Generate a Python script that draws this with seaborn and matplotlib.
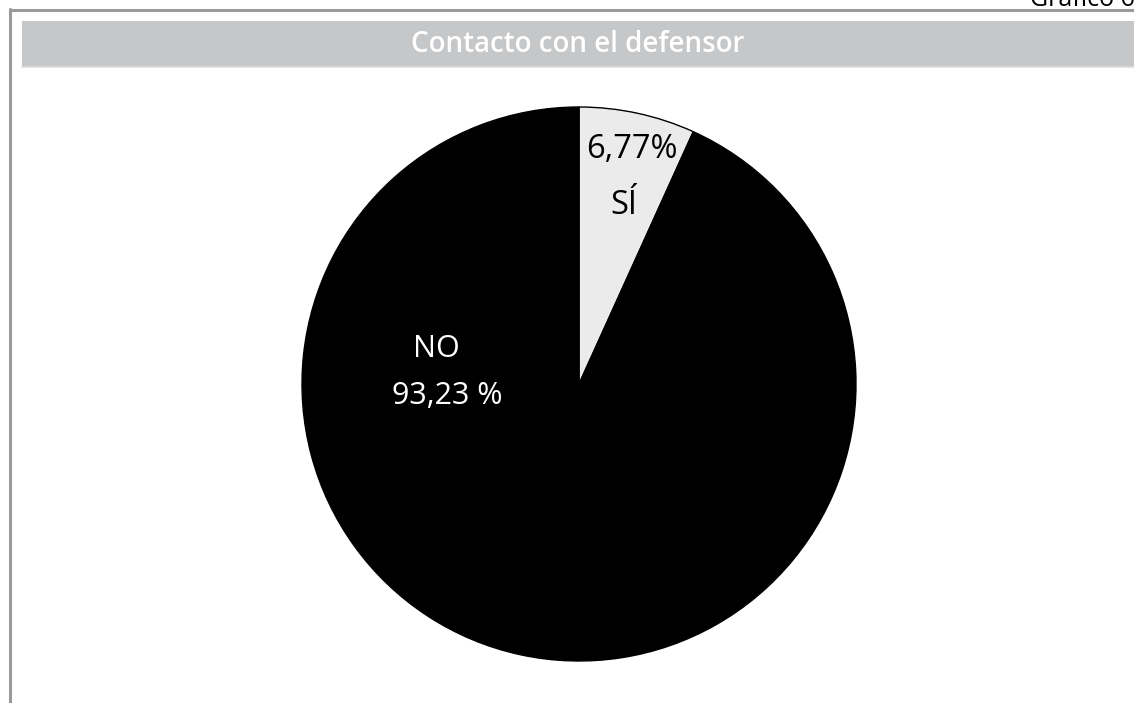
import matplotlib
matplotlib.use("Agg")
import matplotlib.pyplot as plt
import seaborn as sns

# Contact with the public defender: share of answers
categories = ["SÍ", "NO"]
shares = [6.77, 93.23]
slice_labels = ["6,77%\nSÍ", "NO\n93,23 %"]
slice_colors = ["#ebebeb", "#000000"]

sns.set_theme(style="white")
plt.rcParams["font.family"] = ["Open Sans", "DejaVu Sans"]

W, H = 1134, 703
fig = plt.figure(figsize=(W / 100, H / 100), dpi=100)
fig.patch.set_facecolor("white")


def px(x, y):
    """Convert pixel coordinates (origin top-left) to figure fraction."""
    return x / W, 1 - y / H


# Outer frame: top and left rules
fig.add_artist(plt.Line2D([px(10, 0)[0], 1], [px(0, 9.5)[1]] * 2,
                          color="#9a9a9a", lw=2.2))
fig.add_artist(plt.Line2D([px(10, 0)[0]] * 2, [px(0, 9)[1], 0],
                          color="#9a9a9a", lw=2.2))

# Title band
band_x0, band_y0 = px(22, 67)
fig.add_artist(plt.Rectangle((band_x0, band_y0), 1 - band_x0, 46 / H,
                             transform=fig.transFigure, facecolor="#c6c7c9",
                             edgecolor="none"))
fig.add_artist(plt.Line2D([band_x0, 1], [band_y0] * 2, color="#dcdcdc", lw=1.2))
fig.text(*px(578, 44), "Contacto con el defensor", color="white",
         fontsize=20, fontweight="semibold", ha="center", va="center")

# Chart number, partly outside the top edge
fig.text(*px(1030, 6), "Gráfico 6", color="black", fontsize=18,
         ha="left", va="baseline")

# Pie
cx, cy, r = 579, 384, 277
ax = fig.add_axes([(cx - r) / W, (H - cy - r) / H, 2 * r / W, 2 * r / H])
wedges, texts = ax.pie(shares, colors=slice_colors, startangle=90,
                       counterclock=False, radius=1.0,
                       wedgeprops=dict(edgecolor="black", linewidth=1.0))
ax.set_xlim(-1, 1)
ax.set_ylim(-1, 1)
ax.set_aspect("equal")
ax.axis("off")

# Slice annotations
ax.text((632 - cx) / r, (cy - 150) / r, slice_labels[0].split("\n")[0],
        color="black", fontsize=23.5, ha="center", va="center")
ax.text((624 - cx) / r, (cy - 205) / r, slice_labels[0].split("\n")[1],
        color="black", fontsize=23.5, ha="center", va="center")
ax.text((436 - cx) / r, (cy - 349) / r, slice_labels[1].split("\n")[0],
        color="white", fontsize=22, ha="center", va="center")
ax.text((447 - cx) / r, (cy - 396) / r, slice_labels[1].split("\n")[1],
        color="white", fontsize=22, ha="center", va="center")

fig.savefig("out.png", dpi=100, facecolor="white")
